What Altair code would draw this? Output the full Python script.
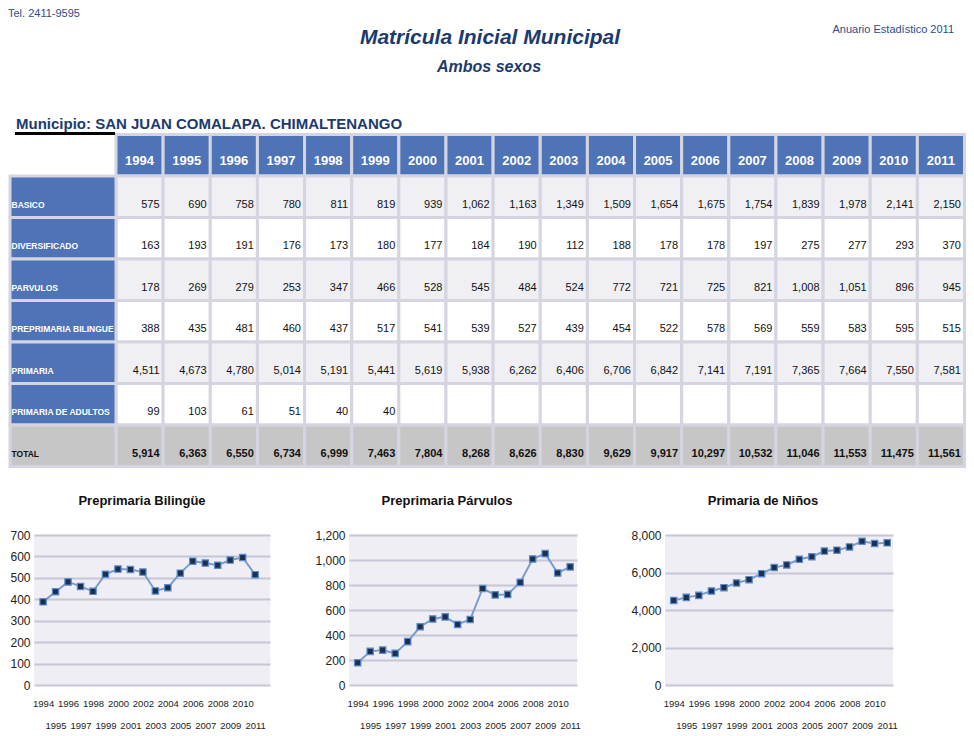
import altair as alt
import pandas as pd

# ---------------- data ----------------
years = list(range(1994, 2012))
row_names = ["BASICO", "DIVERSIFICADO", "PARVULOS", "PREPRIMARIA BILINGUE",
             "PRIMARIA", "PRIMARIA DE ADULTOS", "TOTAL"]
basico = [575, 690, 758, 780, 811, 819, 939, 1062, 1163, 1349, 1509, 1654, 1675, 1754, 1839, 1978, 2141, 2150]
diversificado = [163, 193, 191, 176, 173, 180, 177, 184, 190, 112, 188, 178, 178, 197, 275, 277, 293, 370]
parvulos = [178, 269, 279, 253, 347, 466, 528, 545, 484, 524, 772, 721, 725, 821, 1008, 1051, 896, 945]
bilingue = [388, 435, 481, 460, 437, 517, 541, 539, 527, 439, 454, 522, 578, 569, 559, 583, 595, 515]
primaria = [4511, 4673, 4780, 5014, 5191, 5441, 5619, 5938, 6262, 6406, 6706, 6842, 7141, 7191, 7365, 7664, 7550, 7581]
adultos = [99, 103, 61, 51, 40, 40] + [None] * 12
total = [5914, 6363, 6550, 6734, 6999, 7463, 7804, 8268, 8626, 8830, 9629, 9917, 10297, 10532, 11046, 11553, 11475, 11561]

tel_text = "Tel. 2411-9595"
main_title = "Matrícula Inicial Municipal"
sub_title = "Ambos sexos"
yearbook = "Anuario Estadístico 2011"
municipio = "Municipio: SAN JUAN COMALAPA. CHIMALTENANGO"
chart_titles = ["Preprimaria Bilingüe", "Preprimaria Párvulos", "Primaria de Niños"]
bil_ticks = [0, 100, 200, 300, 400, 500, 600, 700]
par_ticks = [0, 200, 400, 600, 800, 1000, 1200]
pri_ticks = [0, 2000, 4000, 6000, 8000]

# ---------------- styles ----------------
FONT = "Liberation Sans, Arial, sans-serif"
BLUE = "#4f73b7"
NAVY = "#1b3a6f"
TELBLUE = "#2c4d8a"
GAP = "#d5d5e1"
LIGHT = "#efeff4"
GRAY = "#c6c6c6"

# ---------------- header texts ----------------
one = pd.DataFrame({"k": [0]})
hb = alt.Chart(one)
header = alt.layer(
    hb.mark_text(text=tel_text, align="left", baseline="top", font=FONT,
                 fontSize=11, color=TELBLUE).encode(x=alt.value(0), y=alt.value(0)),
    hb.mark_text(text=main_title, align="center", baseline="alphabetic", font=FONT,
                 fontSize=21, fontWeight="bold", fontStyle="italic", color=NAVY
                 ).encode(x=alt.value(482), y=alt.value(36)),
    hb.mark_text(text=sub_title, align="center", baseline="alphabetic", font=FONT,
                 fontSize=16, fontWeight="bold", fontStyle="italic", color=NAVY
                 ).encode(x=alt.value(481), y=alt.value(64)),
    hb.mark_text(text=yearbook, align="right", baseline="alphabetic", font=FONT,
                 fontSize=11, color=TELBLUE).encode(x=alt.value(946), y=alt.value(25)),
    hb.mark_text(text=municipio, align="left", baseline="alphabetic", font=FONT,
                 fontSize=15, fontWeight="bold", color=NAVY
                 ).encode(x=alt.value(8), y=alt.value(121)),
).properties(width=958, height=125)

# ---------------- table ----------------
series = [basico, diversificado, parvulos, bilingue, primaria, adultos, total]
cells = []
for name, vals in zip(row_names, series):
    for yr, v in zip(years, vals):
        cells.append({"row": name, "year": yr, "value": v})
cells_df = pd.DataFrame(cells)
hdr_df = pd.DataFrame({"row": ["header"] * len(years), "year": years})
lab_df = pd.DataFrame({"row": row_names, "col": ["label"] * len(row_names)})

rows_all = ["header"] + row_names
yS = alt.Scale(type="band", domain=rows_all, range=[1.5, 333.5], paddingInner=0, paddingOuter=0)
xS = alt.Scale(type="band", domain=years, range=[108, 956.5], paddingInner=0, paddingOuter=0)
lS = alt.Scale(type="band", domain=["label"], range=[2, 108], paddingInner=0, paddingOuter=0)
Y = alt.Y("row:N", scale=yS, axis=None)
X = alt.X("year:O", scale=xS, axis=None)
L = alt.X("col:N", scale=lS, axis=None)

hdr_rect = alt.Chart(hdr_df).mark_rect(fill=BLUE, stroke=GAP, strokeWidth=3).encode(x=X, y=Y)
hdr_text = alt.Chart(hdr_df).mark_text(color="white", fontWeight="bold", fontSize=13,
                                       font=FONT, dy=6).encode(x=X, y=Y, text="year:N")
body_rect = alt.Chart(cells_df).mark_rect(stroke=GAP, strokeWidth=3).encode(
    x=X, y=Y,
    fill=alt.Fill("row:N", scale=alt.Scale(domain=row_names,
                                           range=[LIGHT, "white", LIGHT, "white", LIGHT, "white", GRAY]),
                  legend=None))
body_text = alt.Chart(cells_df).transform_filter(
    "isValid(datum.value) && datum.row != 'TOTAL'"
).mark_text(align="right", fontSize=11, font=FONT, color="#111", dx=20, dy=8).encode(
    x=X, y=Y, text=alt.Text("value:Q", format=",d"))
total_text = alt.Chart(cells_df).transform_filter(
    "datum.row == 'TOTAL'"
).mark_text(align="right", fontSize=11, font=FONT, fontWeight="bold", color="#111",
            dx=20, dy=8).encode(x=X, y=Y, text=alt.Text("value:Q", format=",d"))
lab_rect = alt.Chart(lab_df).mark_rect(stroke=GAP, strokeWidth=3).encode(
    x=L, y=Y,
    fill=alt.condition(alt.datum.row == "TOTAL", alt.value(GRAY), alt.value(BLUE)))
lab_text = alt.Chart(lab_df).mark_text(align="left", fontSize=8.5, font=FONT, fontWeight="bold",
                                       dx=-51.5, dy=8).encode(
    x=L, y=Y, text="row:N",
    color=alt.condition(alt.datum.row == "TOTAL", alt.value("#111"), alt.value("white")))
underline = alt.Chart(one).mark_rule(color="black", strokeWidth=3).encode(
    x=alt.value(7), x2=alt.value(107), y=alt.value(0.5))

table = alt.layer(
    hdr_rect, hdr_text, body_rect, body_text, total_text, lab_rect, lab_text, underline
).resolve_scale(x="independent").properties(width=958, height=402)


# ---------------- line charts ----------------
def line_chart(vals, title, dom, ticks, width, pad, align, min_ext, title_dx):
    df = pd.DataFrame({"year": years, "v": vals})
    x = alt.X("year:O", scale=alt.Scale(type="point", padding=pad, align=align),
              axis=alt.Axis(title=None, labelAngle=0, ticks=False, tickSize=0, domain=False,
                            grid=False, labelFontSize=9.5, labelFont=FONT, labelColor="#222",
                            labelOverlap=False,
                            labelPadding={"condition": {"test": "datum.value % 2 == 1", "value": 35},
                                          "value": 13}))
    y = alt.Y("v:Q", scale=alt.Scale(domain=dom, nice=False),
              axis=alt.Axis(title=None, values=ticks, format=",d", ticks=False, tickSize=0,
                            domain=False, gridColor="#c6c6d6", gridWidth=2, labelFontSize=12,
                            labelFont=FONT, labelColor="#222", labelPadding=4,
                            minExtent=min_ext))
    base = alt.Chart(df).encode(x=x, y=y)
    line = base.mark_line(color="#7b9ccb", strokeWidth=2)
    pts = base.mark_point(shape="square", filled=True, size=40, fill="#1c2f4d",
                          stroke="#5a8ad0", strokeWidth=1.2, opacity=1)
    return alt.layer(line, pts).properties(
        width=width, height=150,
        title=alt.TitleParams(title, fontSize=13, font=FONT, fontWeight="bold", color="#111",
                              anchor="middle", frame="group", offset=21, dx=title_dx),
        view=alt.ViewBackground(fill="#eeeef4", stroke=None))


spacer = alt.Chart(one).mark_rect(opacity=0).encode(
    x=alt.value(0), x2=alt.value(1), y=alt.value(0), y2=alt.value(1)
).properties(width=1, height=150)
c1 = line_chart(bilingue, chart_titles[0], [0, 700], bil_ticks, 236, 0.96, 0.38, 23, -10)
c2 = line_chart(parvulos, chart_titles[1], [0, 1200], par_ticks, 228, 0.62, 0.56, 79, -16)
c3 = line_chart(primaria, chart_titles[2], [0, 8000], pri_ticks, 228, 0.58, 0.6, 84, -16)
charts = alt.hconcat(spacer, c1, c2, c3, spacing=0)

chart = alt.vconcat(header, table, charts, spacing=0, bounds="flush").properties(
    padding=0, background="white"
).configure_view(stroke=None)

chart.save("out.html", embed_options={"renderer": "svg", "actions": False})
